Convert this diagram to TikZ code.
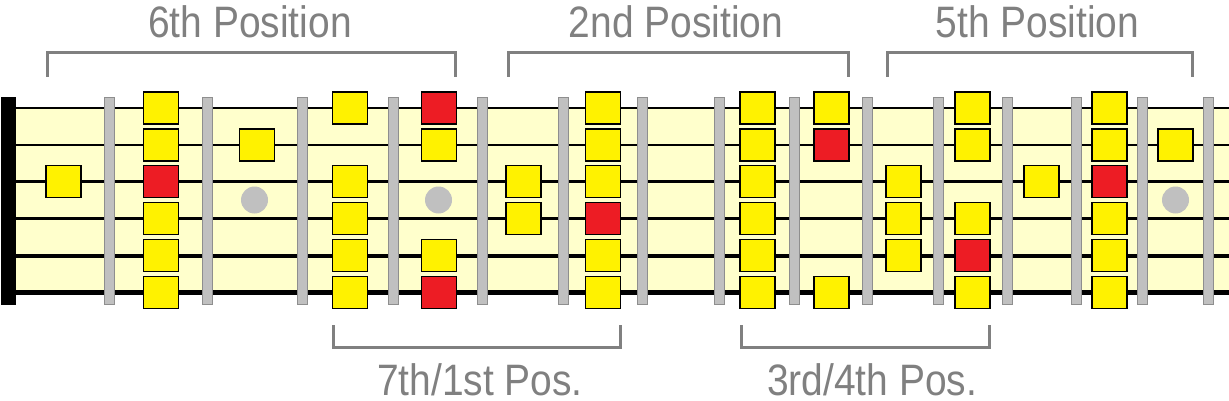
\documentclass[tikz,border=0pt]{standalone}
\usepackage{fontspec}
\setmainfont{Liberation Sans}
\definecolor{board}{HTML}{FFFFCC}
\definecolor{fretfill}{HTML}{C0C0C0}
\definecolor{fretdraw}{HTML}{8E8E8E}
\definecolor{noteY}{HTML}{FFF200}
\definecolor{noteR}{HTML}{ED1C24}
\definecolor{labelgray}{HTML}{808080}
\newcommand{\lbltext}[1]{\scalebox{0.885}[1]{#1}}
\begin{document}
\begin{tikzpicture}[x=1pt,y=-1pt,
  yn/.style={rectangle, draw=black, line width=1.3pt, fill=noteY, minimum width=35pt, minimum height=32pt, inner sep=0pt},
  rn/.style={yn, fill=noteR},
  fretbar/.style={fill=fretfill, draw=fretdraw, line width=1pt},
  bracket/.style={draw=labelgray, line width=3pt, line join=miter},
  lbl/.style={text=labelgray, inner sep=0pt, anchor=base, font=\fontsize{44}{44}\selectfont}]
\useasboundingbox (0,0) rectangle (1229,401);
% fretboard
\fill[board] (16,108) rectangle (1229,295);
% strings
\foreach \y/\w in {108/1.8,145/2.2,181.7/2.8,218.3/3.3,255.7/4,292.7/4.8}
  \draw[line width=\w pt] (16,\y) -- (1229,\y);
% inlay dots
\foreach \x in {254.5,438.5,1175.5}
  \fill[fretfill] (\x,200) circle[radius=13.5];
% frets
\foreach \x in {109,207,302,393,482,563,642,719,794,867,938,1007,1076,1142,1208}
  \filldraw[fretbar] (\x-5,97.5) rectangle (\x+5,304.5);
% nut
\fill[black] (1,97) rectangle (16,305);
% notes
\foreach \x/\y/\st/\nm in {
  63.5/181.7/yn/a3,
  161/108/yn/b1, 161/145/yn/b2, 161/181.7/rn/b3, 161/218.3/yn/b4, 161/255.7/yn/b5, 161/292.7/yn/b6,
  257/145/yn/c2,
  350/108/yn/d1, 350/181.7/yn/d3, 350/218.3/yn/d4, 350/255.7/yn/d5, 350/292.7/yn/d6,
  439/108/rn/e1, 439/145/yn/e2, 439/255.7/yn/e5, 439/292.7/rn/e6,
  523.5/181.7/yn/f3, 523.5/218.3/yn/f4,
  603/108/yn/g1, 603/145/yn/g2, 603/181.7/yn/g3, 603/218.3/rn/g4, 603/255.7/yn/g5, 603/292.7/yn/g6,
  757.5/108/yn/h1, 757.5/145/yn/h2, 757.5/181.7/yn/h3, 757.5/218.3/yn/h4, 757.5/255.7/yn/h5, 757.5/292.7/yn/h6,
  831.5/108/yn/i1, 831.5/145/rn/i2, 831.5/292.7/yn/i6,
  903.5/181.7/yn/j3, 903.5/218.3/yn/j4, 903.5/255.7/yn/j5,
  972.5/108/yn/k1, 972.5/145/yn/k2, 972.5/218.3/yn/k4, 972.5/255.7/rn/k5, 972.5/292.7/yn/k6,
  1041.5/181.7/yn/l3,
  1109.5/108/yn/m1, 1109.5/145/yn/m2, 1109.5/181.7/rn/m3, 1109.5/218.3/yn/m4, 1109.5/255.7/yn/m5, 1109.5/292.7/yn/m6,
  1175.5/145/yn/n2}
  \node[\st] (\nm) at (\x,\y) {};
% brackets
\draw[bracket] (47,77) -- (47,53) -- (455,53) -- (455,77);
\draw[bracket] (508,77) -- (508,53) -- (848,53) -- (848,77);
\draw[bracket] (887,77) -- (887,53) -- (1192,53) -- (1192,77);
\draw[bracket] (333,325) -- (333,347) -- (620,347) -- (620,325);
\draw[bracket] (741,325) -- (741,347) -- (989,347) -- (989,325);
% labels
\node[lbl] (p6) at (250,38) {\lbltext{6th Position}};
\node[lbl] (p2) at (676,38) {\lbltext{2nd Position}};
\node[lbl] (p5) at (1037.5,38) {\lbltext{5th Position}};
\node[lbl] (p71) at (480,395) {\lbltext{7th/1st Pos.}};
\node[lbl] (p34) at (872,395) {\lbltext{3rd/4th Pos.}};
\end{tikzpicture}
\end{document}
